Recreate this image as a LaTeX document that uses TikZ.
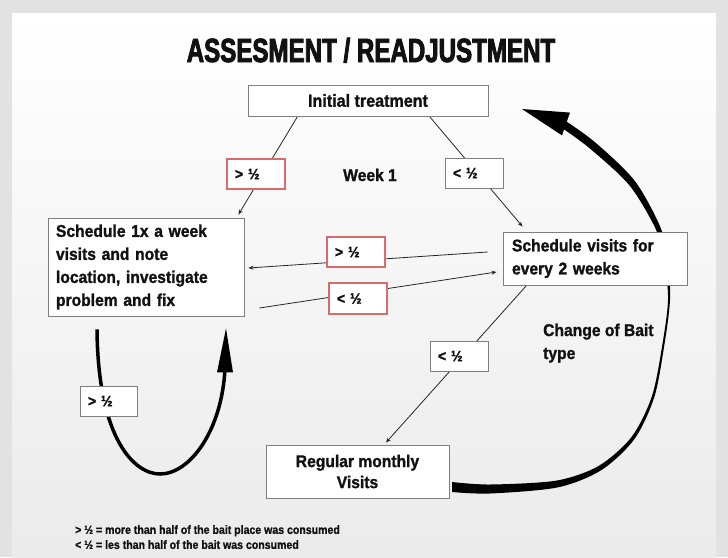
\documentclass[tikz,border=0pt]{standalone}
\usepackage{fontspec}
\setmainfont{Liberation Sans}
\newfontfamily\titlefont{Liberation Sans Bold}[FakeStretch=0.72,FakeBold=2.5]
\newfontfamily\bodyfont{Liberation Sans Bold}[FakeStretch=0.92,FakeBold=1.3]
\newfontfamily\legfont{Liberation Sans Bold}[FakeStretch=0.88,FakeBold=1]
\usetikzlibrary{calc,arrows.meta}
\pgfdeclarelayer{bg}
\pgfdeclarelayer{lines}
\pgfsetlayers{bg,lines,main}
\definecolor{outergray}{HTML}{E2E2E2}
\definecolor{boxgray}{HTML}{7F7F7F}
\definecolor{boxred}{HTML}{D86C6C}
\definecolor{ink}{HTML}{111111}
\tikzset{
  box/.style={draw=boxgray, line width=0.9pt, fill=white, inner sep=0pt, text=ink},
  lbl/.style={box, minimum height=30pt, text width=42pt, inner xsep=8pt, inner ysep=0pt, align=left,
              font=\bodyfont\fontsize{15}{18}\selectfont},
  redlbl/.style={lbl, draw=boxred, line width=1.1pt},
  bodytext/.style={font=\bodyfont\fontsize{17}{23}\selectfont, text=ink, inner sep=0pt},
  conn/.style={draw=black!85, line width=0.8pt, -{Stealth[length=5pt,width=4pt]}},
  thick stroke/.style={draw=black, line width=3.5pt},
}
\begin{document}
\begin{tikzpicture}[x=1pt,y=-1pt]
\useasboundingbox (0,0) rectangle (728,557);
\begin{pgfonlayer}{bg}
  \fill[outergray] (0,0) rectangle (728,557);
  \shade[top color=white, bottom color=black!8] (12,13) rectangle (716,557);
\end{pgfonlayer}

% title
\node[font=\titlefont\fontsize{33.5}{40}\selectfont, text=ink, inner sep=0pt, anchor=base] (title) at (371,62) {ASSESMENT / READJUSTMENT};

% boxes
\node[box, minimum width=240pt, minimum height=31pt, font=\bodyfont\fontsize{17.5}{21}\selectfont] (init) at (368,100.5) {Initial treatment};
\node[redlbl] (l1) at (256,174) {> ½};
\node[bodytext, anchor=base] (week) at (370,181) {Week 1};
\node[lbl] (l2) at (474,173) {< ½};
\node[box, bodytext, minimum height=98pt, text width=180pt, inner xsep=8pt, align=left] (sch1) at (146,267)
  {Schedule 1x a week\\visits and note\\location, investigate\\problem and fix};
\node[box, bodytext, minimum height=53pt, text width=166pt, inner xsep=9pt, align=left] (sch2) at (595,258.5)
  {Schedule visits for\\every 2 weeks};
\node[redlbl] (l3) at (356,252) {> ½};
\node[redlbl, minimum height=31pt] (l4) at (358,298.5) {< ½};
\node[lbl] (l5) at (459,356) {< ½};
\node[lbl, text width=41pt] (l6) at (108.5,401) {> ½};
\node[box, bodytext, minimum width=183pt, minimum height=53pt, align=center, font=\bodyfont\fontsize{17}{21}\selectfont] (reg) at (357.5,471.5)
  {Regular monthly\\Visits};
\node[bodytext, anchor=north west, align=left] (bait) at (543,323.5) {Change of Bait\\type};
\node[font=\legfont\fontsize{12}{15}\selectfont, text=ink, inner sep=0pt, anchor=north west, align=left] (legend) at (75,525)
  {> ½ = more than half of the bait place was consumed\\< ½ = les than half of the bait was consumed};

\begin{pgfonlayer}{lines}
  % thin connectors
  \draw[conn] ($(init.south west)+(50,0)$) -- ($(sch1.north east)+(-6,-3)$);
  \draw[conn] ($(init.south east)+(-59,0)$) -- ($(sch2.north west)+(20,-5)$);
  \draw[conn] ($(sch2.west)+(-15,-6.5)$) -- ($(sch1.east)+(4,1)$);
  \draw[conn] ($(sch1.east)+(15,41)$) -- ($(sch2.west)+(-6,13.5)$);
  \draw[conn] ($(sch2.south west)+(24,0)$) -- ($(reg.north)+(28.5,-2)$);

  % left loop
  \coordinate (la) at ($(sch1.south)+(-49,13)$);
  \coordinate (lb) at ($(sch1.south)+(79,52)$);
  \draw[thick stroke] (la) .. controls +(1,111) and +(-25,0) .. (160,474)
        .. controls +(30,0) and +(-3,62) .. (lb);
  \fill[black] ($(lb)+(1,-40)$) -- ($(lb)+(8,4)$) -- ($(lb)+(-8,4)$) -- cycle;

  % right brush curve
  \fill[black] plot[smooth] coordinates {(452,492) (490,493.5) (557.7,487.4) (601.3,470.1) (634.4,439.1)
      (654.2,397.4) (664,347.2) (670,300) (667.8,259.7) (660.3,227) (634.7,180.8) (594.6,141.9) (561.6,118.3)}
    -- plot[smooth] coordinates {(559,125.9) (589.4,148.1) (629.3,185.2) (655.7,229) (664.2,260.3) (668,300)
      (662,346.8) (651.8,396.6) (631.6,436.9) (598.7,465.9) (556.3,480.6) (490,484.5) (452,482)} -- cycle;
  \fill[black] (522,109) -- (570,112.6) -- (566,124) -- (562,135.4) -- cycle;
\end{pgfonlayer}
\end{tikzpicture}
\end{document}
